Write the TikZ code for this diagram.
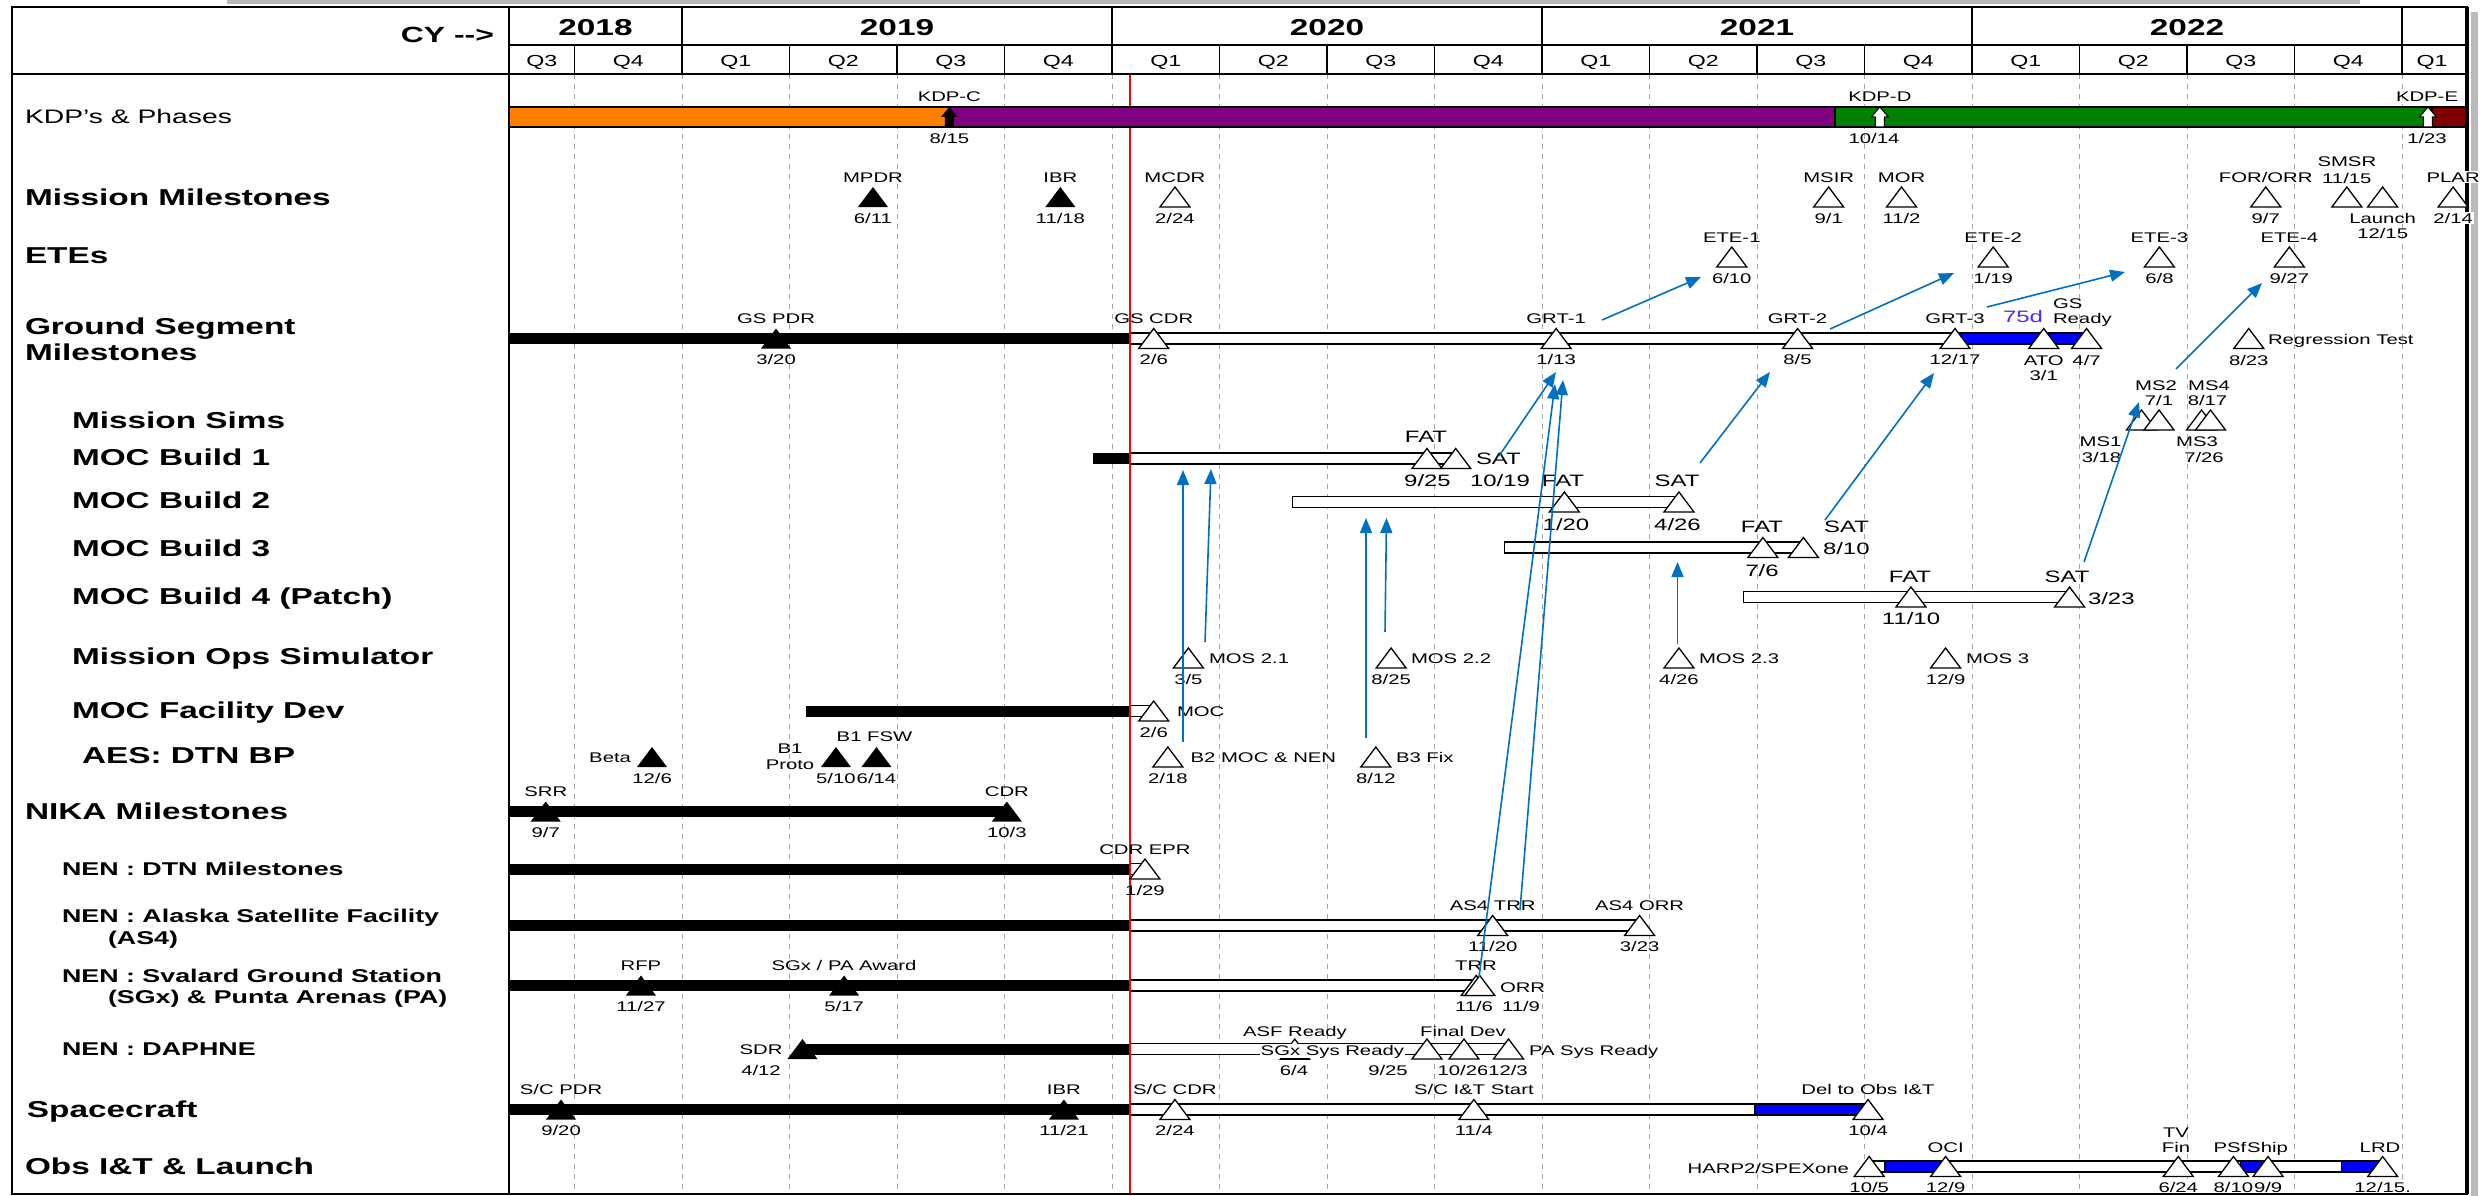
\documentclass[tikz,border=0pt]{standalone}
\usepackage{fontspec}
\setmainfont{Liberation Sans}[FakeStretch=1.45]
\usetikzlibrary{arrows.meta}
\definecolor{kdporange}{RGB}{255,128,0}
\definecolor{kdppurple}{RGB}{128,0,128}
\definecolor{kdpgreen}{RGB}{0,128,0}
\definecolor{kdpred}{RGB}{128,0,0}
\definecolor{arrblue}{RGB}{0,112,192}
\definecolor{barblue}{RGB}{0,0,255}
\definecolor{dblue}{RGB}{80,40,255}
\definecolor{gridgray}{RGB}{165,165,165}
\newcommand\msitem[6]{%
  \path ({#3},#4) pic {#2};
  \node[sm] (#1L) at ({#3},#4-20) {#5};
  \node[sm] (#1D) at ({#3},#4+21) {#6};}
\begin{document}
\begin{tikzpicture}[x=1pt,y=-1pt,
  declare function={dx(\Y,\M,\D)=682+(\Y-2019+(\M-1)/12+(\D-1)/365)*430;},
  every node/.style={inner sep=0pt,outer sep=0pt},
  sm/.style={font=\fontsize{14}{16}\selectfont,anchor=base,yshift=-5pt},
  smw/.style={sm,anchor=base west},
  sme/.style={sm,anchor=base east},
  smbg/.style={sm,fill=white,inner sep=1pt},
  md/.style={font=\fontsize{16.5}{18}\selectfont,anchor=base,yshift=-5.9pt},
  mdw/.style={md,anchor=base west},
  big/.style={font=\bfseries\fontsize{23}{26}\selectfont,anchor=base west,yshift=-8.2pt},
  nen/.style={font=\bfseries\fontsize{18.5}{21}\selectfont,anchor=base west,yshift=-6.6pt},
  kdpl/.style={font=\fontsize{19.5}{21}\selectfont,anchor=base west,yshift=-6.9pt},
  yr/.style={font=\bfseries\fontsize{23}{26}\selectfont,anchor=base,yshift=-8.2pt},
  qt/.style={font=\fontsize{16}{18}\selectfont,anchor=base,yshift=-5.7pt},
  gridl/.style={draw=gridgray,line width=1pt,dash pattern=on 5pt off 5pt},
  hdr/.style={draw=black,line width=1.3pt},
  barB/.style={fill=black},
  barW/.style={draw=black,fill=white,line width=1.3pt},
  barU/.style={draw=black,fill=barblue,line width=1.3pt},
  barrow/.style={draw=arrblue,line width=1.6pt,-{Triangle[length=15pt,width=12pt]}},
  mso/.pic={\draw[fill=white,line width=1.3pt,line join=miter] (-15,10) -- (0,-10) -- (15,10) -- cycle;},
  msf/.pic={\fill[black] (-15,10) -- (0,-10) -- (15,10) -- cycle;},
  kdpb/.pic={\fill[black] (0,-10) -- (-8.5,0) -- (-4.5,0) -- (-4.5,10) -- (4.5,10) -- (4.5,0) -- (8.5,0) -- cycle;},
  kdpw/.pic={\draw[fill=white,line width=1pt] (0,-10) -- (-8.5,0) -- (-4.5,0) -- (-4.5,10) -- (4.5,10) -- (4.5,0) -- (8.5,0) -- cycle;}
]
\useasboundingbox (0,0) rectangle (2481,1196);
\fill[white] (0,0) rectangle (2481,1196);

% ---------- grid ----------
\foreach \k in {-1,...,16} \draw[gridl] ({682+\k*107.5},74) -- ({682+\k*107.5},1194);

% ---------- bars ----------
\path[barB] (509,333) rectangle (1130,344);
\path[barW] (1130,333) rectangle ({dx(2021,12,17)},344);
\path[barU] ({dx(2021,12,17)},333) rectangle ({dx(2022,4,7)},344);
\path[barB] (1092.6,453) rectangle (1130,464);
\path[barW] (1130,453) rectangle ({dx(2020,10,19)},464);
\path[barW] (1292.7,496.5) rectangle ({dx(2021,4,26)},507.5);
\path[barW] (1504.5,542) rectangle ({dx(2021,8,10)},553);
\path[barW] (1743.5,591.5) rectangle ({dx(2022,3,23)},602.5);
\path[barB] (806,705.5) rectangle (1130,716.5);
\path[barW] (1130,705.5) rectangle ({dx(2020,2,6)},716.5);
\path[barB] (509,806) rectangle ({dx(2019,10,3)},817);
\path[barB] (509,863.5) rectangle (1130,874.5);
\path[barW] (1130,863.5) rectangle ({dx(2020,1,29)},874.5);
\path[barB] (509,920) rectangle (1130,931);
\path[barW] (1130,920) rectangle ({dx(2021,3,23)},931);
\path[barB] (509,980) rectangle (1130,991);
\path[barW] (1130,980) rectangle ({dx(2020,11,6)},991);
\path[barB] ({dx(2019,4,12)},1043.5) rectangle (1130,1054.5);
\path[barW] (1130,1043.5) rectangle ({dx(2020,12,3)},1054.5);
\path[barB] (509,1104) rectangle (1130,1115);
\path[barW] (1130,1104) rectangle (1755,1115);
\path[barU] (1755,1104) rectangle ({dx(2021,10,4)},1115);
\path[barW] ({dx(2021,10,5)},1161) rectangle ({dx(2022,12,15)},1172);
\path[barU] (1885,1161) rectangle ({dx(2021,12,9)},1172);
\path[barU] (2240.7,1161) rectangle (2262,1172);
\path[barU] (2341.5,1161) rectangle ({dx(2022,12,15)},1172);

% ---------- today line ----------
\draw[red,line width=1.6pt] (1130,74) -- (1130,1194);

% ---------- KDP bar ----------
\path[draw=black,line width=1.3pt,fill=kdporange] (509,107) rectangle ({dx(2019,8,15)},127);
\path[draw=black,line width=1.3pt,fill=kdppurple] ({dx(2019,8,15)},107) rectangle (1835,127);
\path[draw=black,line width=1.3pt,fill=kdpgreen] (1835,107) rectangle (2432,127);
\path[draw=black,line width=1.3pt,fill=kdpred] (2432,107) rectangle (2467,127);
\path ({dx(2019,8,15)},117) pic {kdpb};
\path ({dx(2021,10,14)},117) pic {kdpw};
\path ({dx(2023,1,23)},117) pic {kdpw};

% ---------- header & frame ----------
\fill[gray!55] (227,0) rectangle (2360,4);
\fill[gray!55] (2471,12) rectangle (2478,1196);
\draw[hdr] (509,45) -- (2467,45);
\draw[line width=1.5pt] (12,74) -- (2467,74);
\draw[hdr] (509,7) -- (509,1194);
\foreach \x in {682,1112,1542,1972,2402} \draw[hdr] (\x,7) -- (\x,74);
\foreach \k in {-1,1,2,3,5,6,7,9,10,11,13,14,15} \draw[hdr] ({682+\k*107.5},45) -- ({682+\k*107.5},74);
\draw[line width=2.6pt] (12,7) rectangle (2467,1194);
\draw[line width=4pt] (2467,7) -- (2467,1194);

\node[font=\bfseries\fontsize{22}{24}\selectfont,anchor=base east,yshift=-7.9pt] (cy) at (494,35) {CY -{}->};
\node[yr] (y2018) at (595.5,27) {2018};
\node[yr] (y2019) at (897,27) {2019};
\node[yr] (y2020) at (1327,27) {2020};
\node[yr] (y2021) at (1757,27) {2021};
\node[yr] (y2022) at (2187,27) {2022};
\node[qt] (q3a) at (541.75,61) {Q3};
\node[qt] (q4a) at (628.25,61) {Q4};
\foreach \k in {0,...,15}{%
  \pgfmathtruncatemacro\qn{mod(\k,4)+1}%
  \node[qt] (qq\k) at ({682+(\k+0.5)*107.5},61) {Q\qn};}
\node[qt] (q1z) at (2432,61) {Q1};

% ---------- row labels ----------
\node[kdpl] (lkdp) at (25,117) {KDP's \& Phases};
\node[big] (lmm) at (25,197) {Mission Milestones};
\node[big] (lete) at (25,255) {ETEs};
\node[big] (lgs1) at (25,326) {Ground Segment};
\node[big] (lgs2) at (25,352) {Milestones};
\node[big] (lms) at (72,420) {Mission Sims};
\node[big] (lb1) at (72,457) {MOC Build 1};
\node[big] (lb2) at (72,500) {MOC Build 2};
\node[big] (lb3) at (72,548) {MOC Build 3};
\node[big] (lb4) at (72,596) {MOC Build 4 (Patch)};
\node[big] (lmos) at (72,656) {Mission Ops Simulator};
\node[big] (lmfd) at (72,710) {MOC Facility Dev};
\node[big] (laes) at (82,755) {AES: DTN BP};
\node[big] (lnika) at (25,811) {NIKA Milestones};
\node[nen] (lnen1) at (62,869) {NEN : DTN Milestones};
\node[nen] (lnen2a) at (62,916) {NEN : Alaska Satellite Facility};
\node[nen] (lnen2b) at (108,938) {(AS4)};
\node[nen] (lnen3a) at (62,976) {NEN : Svalard Ground Station};
\node[nen] (lnen3b) at (108,997) {(SGx) \& Punta Arenas (PA)};
\node[nen] (lnen4) at (62,1049) {NEN : DAPHNE};
\node[big] (lsc) at (27,1109) {Spacecraft};
\node[big] (lobs) at (25,1166) {Obs I\&T \& Launch};

% ---------- KDP labels ----------
\node[sm] (kdpcL) at ({dx(2019,8,15)},97) {KDP-C};
\node[sm] (kdpcD) at ({dx(2019,8,15)},138) {8/15};
\node[sm] (kdpdL) at ({dx(2021,10,14)},97) {KDP-D};
\node[sm] (kdpdD) at (1874,138) {10/14};
\node[sm] (kdpeL) at (2427,97) {KDP-E};
\node[sm] (kdpeD) at (2427,138) {1/23};

% ---------- Mission milestones ----------
\msitem{mpdr}{msf}{dx(2019,6,11)}{197}{MPDR}{6/11}
\msitem{ibr}{msf}{dx(2019,11,18)}{197}{IBR}{11/18}
\msitem{mcdr}{mso}{dx(2020,2,24)}{197}{MCDR}{2/24}
\msitem{msir}{mso}{dx(2021,9,1)}{197}{MSIR}{9/1}
\msitem{mor}{mso}{dx(2021,11,2)}{197}{MOR}{11/2}
\msitem{forr}{mso}{dx(2022,9,7)}{197}{FOR/ORR}{9/7}
\path ({dx(2022,11,15)},197) pic {mso};
\node[sm] (smsrL) at ({dx(2022,11,15)},162) {SMSR};
\node[sm] (smsrD) at ({dx(2022,11,15)},178) {11/15};
\path ({dx(2022,12,15)},197) pic {mso};
\node[sm] (lchL) at ({dx(2022,12,15)},218) {Launch};
\node[sm] (lchD) at ({dx(2022,12,15)},233) {12/15};
\path ({dx(2023,2,14)},197) pic {mso};
\node[smbg] (plarL) at ({dx(2023,2,14)},177) {PLAR};
\node[smbg] (plarD) at ({dx(2023,2,14)},218) {2/14};

% ---------- ETEs ----------
\msitem{ete1}{mso}{dx(2021,6,10)}{257}{ETE-1}{6/10}
\msitem{ete2}{mso}{dx(2022,1,19)}{257}{ETE-2}{1/19}
\msitem{ete3}{mso}{dx(2022,6,8)}{257}{ETE-3}{6/8}
\msitem{ete4}{mso}{dx(2022,9,27)}{257}{ETE-4}{9/27}

% ---------- Ground segment ----------
\msitem{gspdr}{msf}{dx(2019,3,20)}{338.5}{GS PDR}{3/20}
\msitem{gscdr}{mso}{dx(2020,2,6)}{338.5}{GS CDR}{2/6}
\msitem{grt1}{mso}{dx(2021,1,13)}{338.5}{GRT-1}{1/13}
\msitem{grt2}{mso}{dx(2021,8,5)}{338.5}{GRT-2}{8/5}
\msitem{grt3}{mso}{dx(2021,12,17)}{338.5}{GRT-3}{12/17}
\path ({dx(2022,3,1)},338.5) pic {mso};
\node[sm] (atoL) at ({dx(2022,3,1)},360) {ATO};
\node[sm] (atoD) at ({dx(2022,3,1)},375) {3/1};
\path ({dx(2022,4,7)},338.5) pic {mso};
\node[smw] (gsrL1) at (2053,303) {GS};
\node[smw] (gsrL2) at (2053,318) {Ready};
\node[sm] (gsrD) at ({dx(2022,4,7)},360) {4/7};
\node[md,text=dblue] (d75) at (2023,317) {75d};
\path ({dx(2022,8,23)},338.5) pic {mso};
\node[smw] (regL) at (2268,339) {Regression Test};
\node[sm] (regD) at ({dx(2022,8,23)},360) {8/23};

% ---------- Mission sims ----------
\path (2141.5,420) pic {mso};
\path (2159,420) pic {mso};
\path (2201.5,420) pic {mso};
\path (2210.5,420) pic {mso};
\node[sm] (ms2L) at (2156,385) {MS2};
\node[sm] (ms2D) at (2159,400) {7/1};
\node[sm] (ms4L) at (2209,385) {MS4};
\node[sm] (ms4D) at (2207.5,400) {8/17};
\node[sm] (ms1L) at (2100.5,441) {MS1};
\node[sm] (ms1D) at (2101.5,457) {3/18};
\node[sm] (ms3L) at (2197,441) {MS3};
\node[sm] (ms3D) at (2204,457) {7/26};

% ---------- MOC builds ----------
\path ({dx(2020,9,25)},458.5) pic {mso};
\path ({dx(2020,10,19)},458.5) pic {mso};
\node[md] (b1fL) at (1426,437) {FAT};
\node[mdw] (b1sL) at (1476,459) {SAT};
\node[md] (b1fD) at (1427.5,481) {9/25};
\node[md] (b1sD) at (1500,481) {10/19};
\path ({dx(2021,1,20)},502) pic {mso};
\path ({dx(2021,4,26)},502) pic {mso};
\node[md] (b2fL) at (1563,481) {FAT};
\node[md] (b2sL) at (1677,481) {SAT};
\node[md] (b2fD) at (1566,525) {1/20};
\node[md] (b2sD) at (1677.5,525) {4/26};
\path ({dx(2021,7,6)},547.5) pic {mso};
\path ({dx(2021,8,10)},547.5) pic {mso};
\node[md] (b3fL) at (1762,527) {FAT};
\node[md] (b3sL) at (1846.5,527) {SAT};
\node[mdw] (b3sD) at (1823,549) {8/10};
\node[md] (b3fD) at (1762,571) {7/6};
\path ({dx(2021,11,10)},597) pic {mso};
\path ({dx(2022,3,23)},597) pic {mso};
\node[md] (b4fL) at (1910,577) {FAT};
\node[md] (b4sL) at (2067,577) {SAT};
\node[md] (b4fD) at (1911,619) {11/10};
\node[mdw] (b4sD) at (2088,599) {3/23};

% ---------- Mission Ops Simulator ----------
\path ({dx(2020,3,5)},658) pic {mso};
\node[smw] (mos1L) at (1209,658) {MOS 2.1};
\node[sm] (mos1D) at ({dx(2020,3,5)},679) {3/5};
\path ({dx(2020,8,25)},658) pic {mso};
\node[smw] (mos2L) at (1411,658) {MOS 2.2};
\node[sm] (mos2D) at ({dx(2020,8,25)},679) {8/25};
\path ({dx(2021,4,26)},658) pic {mso};
\node[smw] (mos3L) at (1699,658) {MOS 2.3};
\node[sm] (mos3D) at ({dx(2021,4,26)},679) {4/26};
\path ({dx(2021,12,9)},658) pic {mso};
\node[smw] (mos4L) at (1966,658) {MOS 3};
\node[sm] (mos4D) at ({dx(2021,12,9)},679) {12/9};

% ---------- MOC facility ----------
\path ({dx(2020,2,6)},711) pic {mso};
\node[smw] (mocL) at (1177,711) {MOC};
\node[sm] (mocD) at ({dx(2020,2,6)},732) {2/6};

% ---------- AES ----------
\path ({dx(2018,12,6)},757) pic {msf};
\node[sme] (betaL) at (631,757) {Beta};
\node[sm] (betaD) at ({dx(2018,12,6)},778) {12/6};
\path ({dx(2019,5,10)},757) pic {msf};
\node[sm] (b1pL1) at (790,748) {B1};
\node[sm] (b1pL2) at (790,764) {Proto};
\node[sm] (b1pD) at ({dx(2019,5,10)},778) {5/10};
\path ({dx(2019,6,14)},757) pic {msf};
\node[sm] (b1fswL) at (874.5,736) {B1 FSW};
\node[sm] (b1fswD) at ({dx(2019,6,14)},778) {6/14};
\path ({dx(2020,2,18)},757) pic {mso};
\node[smw] (b2nL) at (1190.6,757) {B2 MOC \& NEN};
\node[sm] (b2nD) at ({dx(2020,2,18)},778) {2/18};
\path ({dx(2020,8,12)},757) pic {mso};
\node[smw] (b3xL) at (1396,757) {B3 Fix};
\node[sm] (b3xD) at ({dx(2020,8,12)},778) {8/12};

% ---------- NIKA ----------
\msitem{srr}{msf}{dx(2018,9,7)}{811.5}{SRR}{9/7}
\msitem{ncdr}{msf}{dx(2019,10,3)}{811.5}{CDR}{10/3}

% ---------- NEN ----------
\msitem{epr}{mso}{dx(2020,1,29)}{869}{CDR EPR}{1/29}
\msitem{as4t}{mso}{dx(2020,11,20)}{925.5}{AS4 TRR}{11/20}
\msitem{as4o}{mso}{dx(2021,3,23)}{925.5}{AS4 ORR}{3/23}
\msitem{rfp}{msf}{dx(2018,11,27)}{985.5}{RFP}{11/27}
\path ({dx(2019,5,17)},985.5) pic {msf};
\node[sm] (awL) at (844,965.5) {SGx / PA Award};
\node[sm] (awD) at ({dx(2019,5,17)},1006.5) {5/17};
\path ({dx(2020,11,6)},985.5) pic {mso};
\path ({dx(2020,11,9)},985.5) pic {mso};
\node[sm] (trrL) at (1476,965.5) {TRR};
\node[smw] (orrL) at (1500,987) {ORR};
\node[sm] (trrD) at (1474,1006.5) {11/6};
\node[sm] (orrD) at (1521,1006.5) {11/9};

% DAPHNE
\path ({dx(2019,4,12)},1049) pic {msf};
\node[sm] (sdrL) at (761,1049) {SDR};
\node[sm] (sdrD) at (761,1070) {4/12};
\path ({dx(2020,6,4)},1049) pic {mso};
\node[sm] (asfL) at (1295,1031) {ASF Ready};
\node[sm] (asfD) at (1294,1070) {6/4};
\node[sme,fill=white,inner sep=1pt] (sgxL) at (1405,1050) {SGx Sys Ready};
\draw[line width=1.3pt] (1280,1059) -- (1310,1059);
\path ({dx(2020,9,25)},1049) pic {mso};
\node[sm] (sgxD) at (1388,1070) {9/25};
\path ({dx(2020,10,26)},1049) pic {mso};
\node[sm] (fdL) at (1463,1031) {Final Dev};
\node[sm] (fdD) at (1463,1070) {10/26};
\path ({dx(2020,12,3)},1049) pic {mso};
\node[smw] (paL) at (1529,1050) {PA Sys Ready};
\node[smbg] (paD) at (1508,1070) {12/3};

% ---------- Spacecraft ----------
\msitem{scpdr}{msf}{dx(2018,9,20)}{1109.5}{S/C PDR}{9/20}
\msitem{scibr}{msf}{dx(2019,11,21)}{1109.5}{IBR}{11/21}
\msitem{sccdr}{mso}{dx(2020,2,24)}{1109.5}{S/C CDR}{2/24}
\msitem{scit}{mso}{dx(2020,11,4)}{1109.5}{S/C I\&T Start}{11/4}
\msitem{del}{mso}{dx(2021,10,4)}{1109.5}{Del to Obs I\&T}{10/4}

% ---------- Obs I&T ----------
\path ({dx(2021,10,5)},1166.5) pic {mso};
\path ({dx(2021,12,9)},1166.5) pic {mso};
\path ({dx(2022,6,24)},1166.5) pic {mso};
\path ({dx(2022,8,10)},1166.5) pic {mso};
\path ({dx(2022,9,9)},1166.5) pic {mso};
\path ({dx(2022,12,15)},1166.5) pic {mso};
\node[sme] (harpL) at (1849,1168) {HARP2/SPEXone};
\node[sm] (ociL) at ({dx(2021,12,9)},1147) {OCI};
\node[sm] (tvL1) at (2176,1132) {TV};
\node[sm] (tvL2) at (2176,1147) {Fin};
\node[sm] (psfL) at (2230,1147) {PSf};
\node[sm] (shipL) at (2267.5,1147) {Ship};
\node[sm] (lrdL) at (2380,1147) {LRD};
\node[smbg] (harpD) at ({dx(2021,10,5)},1187) {10/5};
\node[smbg] (ociD) at ({dx(2021,12,9)},1187) {12/9};
\node[smbg] (tvD) at ({dx(2022,6,24)},1187) {6/24};
\node[smbg] (psfD) at ({dx(2022,8,10)},1187) {8/10};
\node[smbg] (shipD) at ({dx(2022,9,9)},1187) {9/9};
\node[smbg] (lrdD) at ({dx(2022,12,15)},1187) {12/15.};

% ---------- dependency arrows ----------
\coordinate (a1s) at (1602,320);   \coordinate (a1e) at (1701,277);
\coordinate (a2s) at (1830,329);   \coordinate (a2e) at (1954,273);
\coordinate (a3s) at (1987,307);   \coordinate (a3e) at (2125,272);
\coordinate (a4s) at (2176,369);   \coordinate (a4e) at (2262,283);
\coordinate (a5s) at (1499,456);   \coordinate (a5e) at (1556,372);
\coordinate (a6s) at (1479,977);   \coordinate (a6e) at (1555,384);
\coordinate (a7s) at (1520,910);   \coordinate (a7e) at (1563,380);
\coordinate (a8s) at (1700,463);   \coordinate (a8e) at (1770,372);
\coordinate (a9s) at (1825,520);   \coordinate (a9e) at (1934,373);
\coordinate (a10s) at (2084,562);  \coordinate (a10e) at (2139,402);
\coordinate (a11s) at (1183,742);  \coordinate (a11e) at (1183,470);
\coordinate (a12s) at (1205,642);  \coordinate (a12e) at (1211,469);
\coordinate (a13s) at (1366,738);  \coordinate (a13e) at (1366,518);
\coordinate (a14s) at (1385,632);  \coordinate (a14e) at (1386.5,518);
\coordinate (a15s) at (1677.5,644); \coordinate (a15e) at (1677.5,562);
\foreach \i in {1,...,15} \draw[barrow] (a\i s) -- (a\i e);
\end{tikzpicture}
\end{document}
